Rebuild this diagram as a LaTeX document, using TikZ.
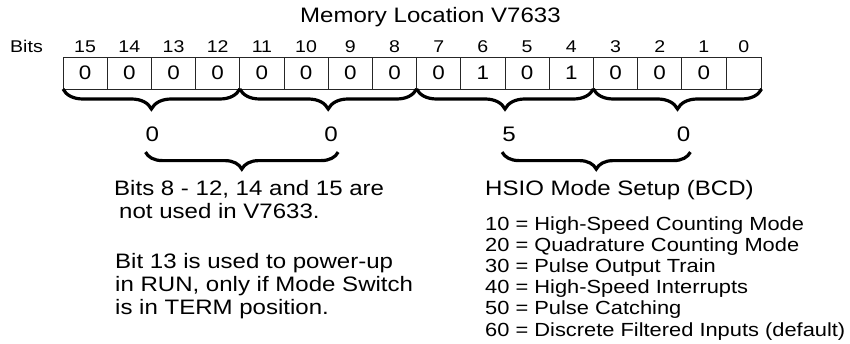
\documentclass[tikz,border=0pt]{standalone}
\usepackage{fontspec}
\setmainfont[FakeStretch=1.15]{Liberation Sans}
\usetikzlibrary{decorations.pathreplacing, calc, positioning}
\tikzset{
  cell/.style     = {draw=black!85, line width=0.8pt, minimum width=44.2pt,
                     minimum height=32pt, inner sep=0pt, outer sep=0pt,
                     anchor=north west, font=\fontsize{19.5}{20}\selectfont},
  bitnum/.style   = {anchor=base, inner sep=0pt, font=\fontsize{17}{18}\selectfont},
  bigbrace/.style = {decorate, decoration={brace, mirror, amplitude=#1},
                     line width=3.2pt},
  bigbrace/.default = 20pt,
  digit/.style    = {anchor=base, inner sep=0pt, font=\fontsize{21}{22}\selectfont},
  lbl/.style      = {anchor=base west, inner sep=0pt, align=left,
                     font=\fontsize{20.9}{23}\selectfont},
  listlbl/.style  = {anchor=base west, inner sep=0pt, align=left,
                     font=\fontsize{19}{21.2}\selectfont},
}
\begin{document}
\begin{tikzpicture}[x=1pt, y=-1pt]
  \useasboundingbox (0,0) rectangle (850,344);
  % register
  \node[lbl] (title) at (300,23) {Memory Location V7633};
  \node[bitnum, anchor=base west] (bits) at (10,53) {Bits};
  \foreach \b/\v [count=\i from 0] in {15/0,14/0,13/0,12/0,11/0,10/0,9/0,8/0,
                                       7/0,6/1,5/0,4/1,3/0,2/0,1/0} {
    \node[cell] (c\b) at ({63+44.2*\i},57) {\v};
    \node[bitnum] (n\b) at ([yshift=4pt]c\b.north) {\b};
  }
  \node[cell, minimum width=35.6pt] (c0) at (c1.north east) {};
  \node[bitnum] (n0) at ([yshift=4pt]c0.north) {0};
  % nibbles
  \draw[bigbrace] (c15.south west) -- (c12.south east);
  \draw[bigbrace] (c11.south west) -- (c8.south east);
  \draw[bigbrace] (c7.south west) -- (c4.south east);
  \draw[bigbrace] (c3.south west) -- (c0.south east);
  \node[digit] (h3) at ($(c15.south west)!0.5!(c12.south east) + (1,52.7)$) {0};
  \node[digit] (h2) at ($(c11.south west)!0.5!(c8.south east) + (3,52.7)$) {0};
  \node[digit] (h1) at ($(c7.south west)!0.5!(c4.south east) + (4,52.7)$) {5};
  \node[digit] (h0) at ($(c3.south west)!0.5!(c0.south east) + (6,52.7)$) {0};
  % bytes
  \draw[bigbrace=17pt] ([yshift=-10pt]h3.south west) -- ([yshift=-10pt]h2.south east);
  \draw[bigbrace=17pt] ([yshift=-10pt]h1.south west) -- ([yshift=-10pt]h0.south east);
  % notes (base = last line)
  \node[lbl] (unused) at (114,219) {Bits 8 - 12, 14 and 15 are\\\hspace*{5pt}not used in V7633.};
  \node[lbl] (bit13) at (115,314) {Bit 13 is used to power-up\\in RUN, only if Mode Switch\\is in TERM position.};
  \node[lbl] (hsio) at (485,196) {HSIO Mode Setup (BCD)};
  \node[listlbl] (modes) at (485,336) {10 = High-Speed Counting Mode\\
    20 = Quadrature Counting Mode\\30 = Pulse Output Train\\
    40 = High-Speed Interrupts\\50 = Pulse Catching\\
    60 = Discrete Filtered Inputs (default)};
\end{tikzpicture}
\end{document}
